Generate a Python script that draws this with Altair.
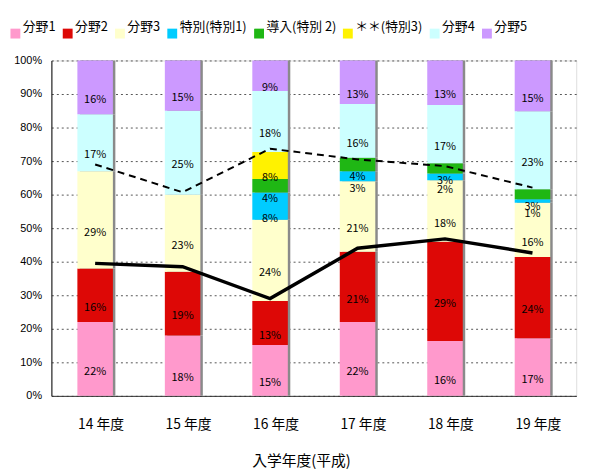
import altair as alt
import pandas as pd

years = ["14 年度", "15 年度", "16 年度", "17 年度", "18 年度", "19 年度"]
series = ["分野1", "分野2", "分野3", "特別(特別1)", "導入(特別 2)", "＊＊(特別3)", "分野4", "分野5"]
colors = ["#FF99CC", "#DD0806", "#FFFFCC", "#00CCFF", "#1FB714", "#FFF200", "#CCFFFF", "#CC99FF"]

bunya1 = [22, 18, 15, 22, 16, 17]
bunya2 = [16, 19, 13, 21, 29, 24]
bunya3 = [29, 23, 24, 21, 18, 16]
tokubetsu1 = [0, 0, 8, 3, 2, 1]
dounyu2 = [0, 0, 4, 4, 3, 3]
tokubetsu3 = [0, 0, 8, 0, 0, 0]
bunya4 = [17, 25, 18, 16, 17, 23]
bunya5 = [16, 15, 9, 13, 13, 15]

solid_line = [39.5, 38.5, 29.0, 44.0, 46.8, 42.6]
dashed_line = [69.0, 60.7, 73.7, 70.5, 68.5, 62.1]
y_ticks = [0, 10, 20, 30, 40, 50, 60, 70, 80, 90, 100]

all_vals = [bunya1, bunya2, bunya3, tokubetsu1, dounyu2, tokubetsu3, bunya4, bunya5]
rows = []
for si, s in enumerate(series):
    for yi, y in enumerate(years):
        rows.append({"year": y, "series": s, "order": si, "value": all_vals[si][yi]})
df = pd.DataFrame(rows)
df_lines = pd.DataFrame({"year": years, "solid": solid_line, "dashed": dashed_line})

FONT = "Noto Sans CJK JP"

x_enc = alt.X(
    "year:N", sort=years,
    scale=alt.Scale(paddingInner=0.594, paddingOuter=0.297),
    axis=alt.Axis(
        labelAngle=0, ticks=False, domainColor="#333333", labelPadding=22, labelOffset=6,
        labelFontSize=14, labelFont=FONT, labelColor="#000000",
        title="入学年度(平成)", titleFontSize=15, titleFont=FONT, titleFontWeight="normal",
        titleColor="#000000", titleX=253, titleY=66, titleBaseline="middle", titleAlign="center",
    ),
)
y_scale = alt.Scale(domain=[0, 100], nice=False)
y_axis = alt.Axis(
    values=y_ticks, labelExpr="datum.value + '%'", grid=True, labelOverlap=False,
    gridDash=[2, 3], gridColor="#555555", gridWidth=1, domainColor="#000000",
    ticks=False, labelPadding=10, labelFontSize=11, labelFont="Liberation Sans",
    labelColor="#000000", title=None,
)


def Y(field):
    return alt.Y(field, scale=y_scale, axis=y_axis)


base = alt.Chart(df).transform_stack(
    stack="value", groupby=["year"], sort=[alt.SortField("order", "ascending")],
    as_=["v0", "v1"], offset="normalize",
).transform_calculate(
    y0="datum.v0*100", y1="datum.v1*100", mid="(datum.v0+datum.v1)*50",
)

shadow = base.mark_bar(color="#8a8a8a", xOffset=2.5).encode(
    x=x_enc, y=Y("y0:Q"), y2="y1:Q",
)

bars = base.mark_bar().encode(
    x=x_enc,
    y=Y("y0:Q"),
    y2="y1:Q",
    color=alt.Color(
        "series:N", scale=alt.Scale(domain=series, range=colors),
        legend=alt.Legend(
            orient="none", legendX=-43, legendY=-34, direction="horizontal", title=None,
            symbolType="square", symbolSize=100, symbolStrokeWidth=0,
            labelFontSize=13, labelFont=FONT, labelColor="#000000", labelBaseline="bottom",
            labelOffset=1, columnPadding=5,
        ),
    ),
    order=alt.Order("order:Q"),
)

labels = base.transform_filter("datum.value > 0").transform_calculate(
    lab="datum.value + '%'"
).mark_text(dy=13, fontSize=11, font=FONT, color="#000000").encode(
    x=x_enc, y=Y("mid:Q"), text="lab:N",
)

line_solid = alt.Chart(df_lines).mark_line(color="#000000", strokeWidth=3.5).encode(
    x=x_enc, y=Y("solid:Q"),
)
line_dashed = alt.Chart(df_lines).mark_line(color="#000000", strokeWidth=2, strokeDash=[7, 5]).encode(
    x=x_enc, y=Y("dashed:Q"),
)

chart = alt.layer(shadow, bars, line_dashed, line_solid, labels).properties(
    width=532, height=340,
    autosize=alt.AutoSizeParams(type="none"),
    padding={"left": 44, "top": 50, "right": 15, "bottom": 75},
).configure_view(stroke=None).configure(background="#ffffff")

chart.save("out.html", embed_options={"renderer": "svg", "actions": False})
